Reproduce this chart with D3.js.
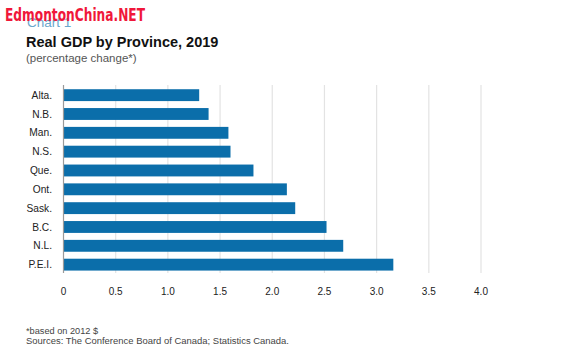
<!DOCTYPE html>
<html><head><meta charset="utf-8">
<script src="https://cdn.jsdelivr.net/npm/d3@7/dist/d3.min.js"></script>
<style>body{margin:0;background:#fff;}svg{display:block;font-family:"Liberation Sans",Arial,Helvetica,sans-serif;}</style>
</head><body>
<svg id="c" width="564" height="360"></svg>
<script>
const provinces = ["Alta.","N.B.","Man.","N.S.","Que.","Ont.","Sask.","B.C.","N.L.","P.E.I."];
const gdpChange = [1.30,1.39,1.58,1.60,1.82,2.14,2.22,2.52,2.68,3.16];
const tickValues = [0,0.5,1.0,1.5,2.0,2.5,3.0,3.5,4.0];
const tickLabels = ["0","0.5","1.0","1.5","2.0","2.5","3.0","3.5","4.0"];

const svg = d3.select("#c");
svg.append("rect").attr("width",564).attr("height",360).attr("fill","#fff");

const x = d3.scaleLinear().domain([0,4]).range([63.5,481]);
const y = d3.scaleBand().domain(provinces).range([86.4,273.4]).paddingInner(0.37).paddingOuter(0.15);

// gridlines
svg.append("g").selectAll("line").data(tickValues.slice(1)).join("line")
  .attr("x1",d=>x(d)).attr("x2",d=>x(d)).attr("y1",85).attr("y2",273)
  .attr("stroke","#e3e3e3").attr("stroke-width",1.2);

// bars
svg.append("g").selectAll("rect").data(provinces).join("rect")
  .attr("x",x(0)).attr("y",d=>y(d)).attr("height",y.bandwidth())
  .attr("width",(d,i)=>x(gdpChange[i])-x(0)).attr("fill","#0b6eaa");

// axis line
svg.append("line").attr("x1",x(0)).attr("x2",x(0)).attr("y1",85).attr("y2",273)
  .attr("stroke","#9a9a9a").attr("stroke-width",1.2);

// category labels
svg.append("g").selectAll("text").data(provinces).join("text")
  .attr("x",52).attr("y",d=>y(d)+y.bandwidth()/2).attr("dy","0.35em")
  .attr("text-anchor","end").attr("font-size",10.2).attr("fill","#222").text(d=>d);

// x tick labels
svg.append("g").selectAll("text").data(tickValues).join("text")
  .attr("x",d=>x(d)).attr("y",294.5).attr("text-anchor","middle")
  .attr("font-size",10).attr("fill","#222").text((d,i)=>tickLabels[i]);

// titles
svg.append("text").attr("x",27).attr("y",27).attr("font-size",13.5).attr("fill","#6aa6cc").text("Chart 1");
svg.append("text").attr("x",26).attr("y",46.5).attr("font-size",14.5).attr("font-weight","bold").attr("fill","#111").text("Real GDP by Province, 2019");
svg.append("text").attr("x",26).attr("y",62).attr("font-size",11.5).attr("fill","#555").text("(percentage change*)");

// watermark
svg.append("text").attr("x",5).attr("y",21).attr("font-size",18).attr("font-weight","bold")
  .attr("font-family","'DejaVu Sans Condensed','Liberation Sans Narrow',sans-serif")
  .attr("textLength",140).attr("lengthAdjust","spacingAndGlyphs")
  .attr("fill","#f0173a").text("EdmontonChina.NET");

// footnotes
svg.append("text").attr("x",26).attr("y",334).attr("font-size",9.2).attr("fill","#444").text("*based on 2012 $");
svg.append("text").attr("x",26).attr("y",344.2).attr("font-size",9.2)
  .attr("textLength",263).attr("lengthAdjust","spacingAndGlyphs")
  .attr("fill","#444").text("Sources: The Conference Board of Canada; Statistics Canada.");
</script>
</body></html>
